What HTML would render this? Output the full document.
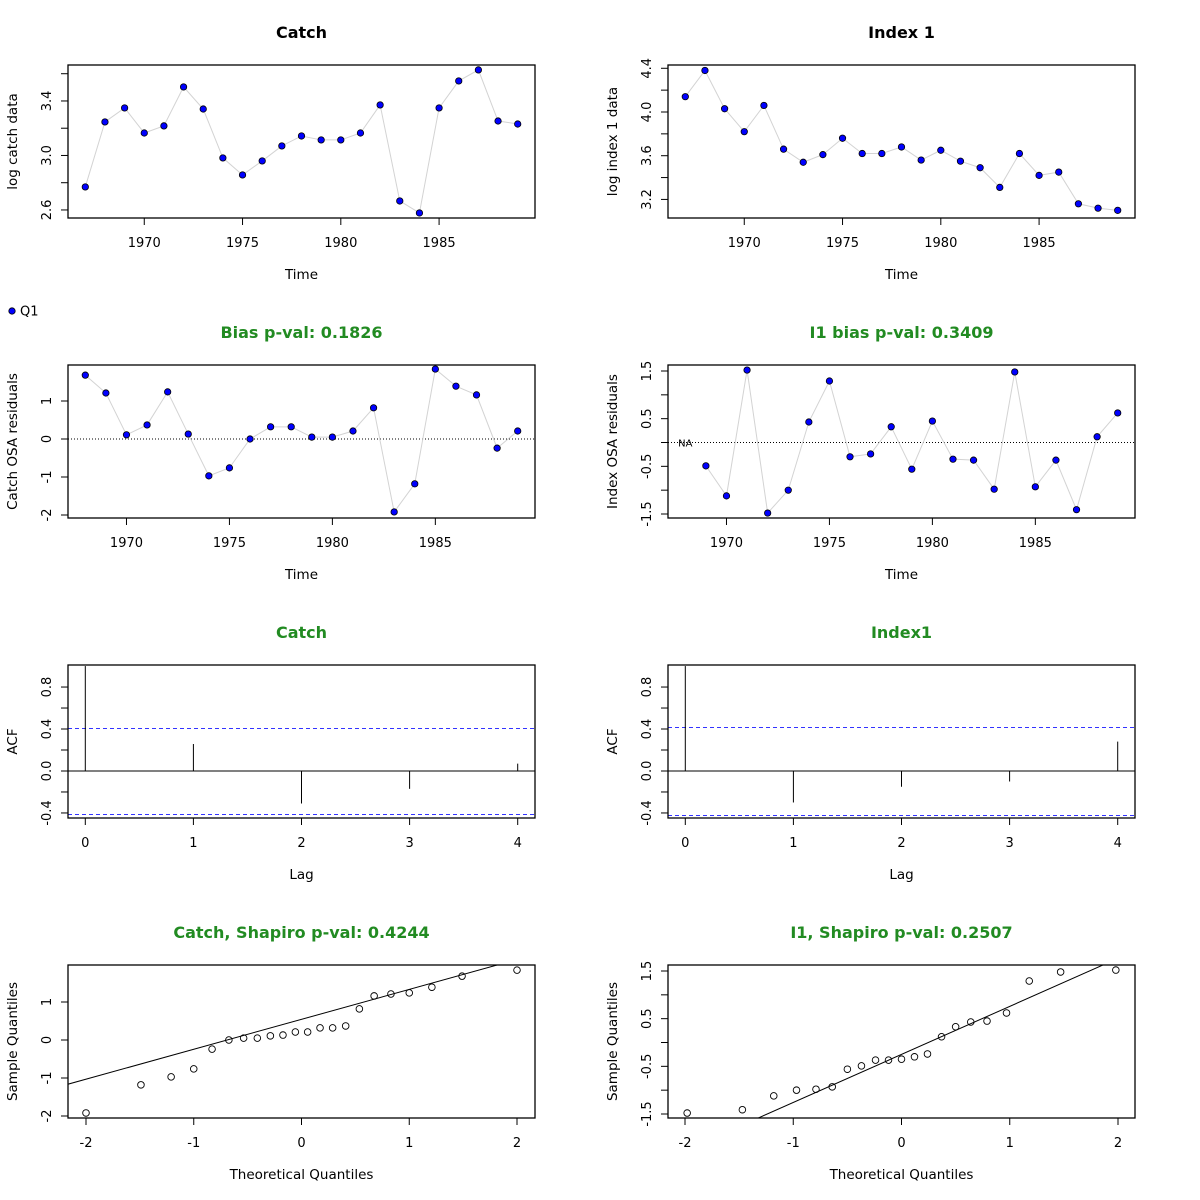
<!DOCTYPE html>
<html><head><meta charset="utf-8"><style>
html,body{margin:0;padding:0;background:#fff}
svg{display:block;font-family:"DejaVu Sans","Liberation Sans",sans-serif}
</style></head><body>
<svg id="s" width="1200" height="1200" viewBox="0 0 1200 1200">
<g>
<circle cx="12" cy="311" r="3.2" fill="#0000ff" stroke="#000" stroke-width="0.8"></circle>
<text x="20" y="315.5" font-size="13">Q1</text>
</g>
</svg>
<script>
const catchYears=[1967,1968,1969,1970,1971,1972,1973,1974,1975,1976,1977,1978,1979,1980,1981,1982,1983,1984,1985,1986,1987,1988,1989];
const catchLog=[2.769,3.246,3.349,3.165,3.217,3.503,3.341,2.982,2.857,2.960,3.070,3.143,3.114,3.114,3.165,3.371,2.666,2.578,3.349,3.547,3.628,3.253,3.231];
const indexYears=catchYears;
const indexLog=[4.14,4.38,4.03,3.82,4.06,3.66,3.54,3.61,3.76,3.62,3.62,3.68,3.56,3.65,3.55,3.49,3.31,3.62,3.42,3.45,3.16,3.12,3.10];
const residYears=[1968,1969,1970,1971,1972,1973,1974,1975,1976,1977,1978,1979,1980,1981,1982,1983,1984,1985,1986,1987,1988,1989];
const catchResid=[1.68,1.21,0.11,0.37,1.24,0.13,-0.97,-0.76,0,0.32,0.32,0.05,0.05,0.21,0.82,-1.92,-1.18,1.84,1.39,1.16,-0.24,0.21];
const indexResid=[null,-0.49,-1.12,1.52,-1.48,-1.0,0.43,1.29,-0.30,-0.24,0.33,-0.56,0.45,-0.35,-0.37,-0.98,1.48,-0.93,-0.37,-1.41,0.12,0.62];
const acfLags=[0,1,2,3,4];
const catchAcf=[1,0.257,-0.31,-0.17,0.07];
const indexAcf=[1,-0.30,-0.15,-0.10,0.28];
const catchCI=[0.41];
const indexCI=[0.415];
const catchTheo=[-2.00,-1.49,-1.21,-1.00,-0.83,-0.674,-0.537,-0.410,-0.289,-0.172,-0.057,0.057,0.172,0.289,0.410,0.537,0.674,0.83,1.00,1.21,1.49,2.00];
const indexTheo=[-1.98,-1.47,-1.18,-0.97,-0.79,-0.64,-0.50,-0.37,-0.24,-0.12,0,0.12,0.24,0.37,0.50,0.64,0.79,0.97,1.18,1.47,1.98];
const xYearTicks=[1970,1975,1980,1985];
const qqXTicks=[-2,-1,0,1,2];

const NS="http://www.w3.org/2000/svg";
const svg=document.getElementById('s');
function el(tag,attrs,parent,txt){const e=document.createElementNS(NS,tag);for(const k in attrs)e.setAttribute(k,attrs[k]);if(txt!==undefined)e.textContent=txt;(parent||svg).appendChild(e);return e;}

function panel(o){
  const g=el('g',{});
  
  
  const L=o.L,R=o.L+467,T=o.T,B=o.T+153;
  const sx=v=>L+(v-o.xd[0])/(o.xd[1]-o.xd[0])*(R-L);
  const sy=v=>B-(v-o.yd[0])/(o.yd[1]-o.yd[0])*(B-T);
  const cx=(L+R)/2;
  const t=el('text',{x:cx,y:T-27,'font-size':16,'font-weight':'bold','text-anchor':'middle',fill:o.tc},g,o.title);
  
  
  const xt=el('text',{x:cx,y:B+61,'font-size':13.5,'text-anchor':'middle'},g,o.xl);
  
  
  const yt=el('text',{x:0,y:0,'font-size':13.5,'text-anchor':'middle',transform:`translate(${L-51},${(T+B)/2}) rotate(-90)`},g,o.yl);
  
  
  o.xt.forEach(v=>{const x=sx(v);el('line',{x1:x,x2:x,y1:B,y2:B+7,stroke:'#000'},g);
    const tl=el('text',{x:x,y:B+29,'font-size':13,'text-anchor':'middle'},g,String(v));
    
    });
  o.yt.forEach((v,i)=>{const y=sy(v);el('line',{x1:L-7,x2:L,y1:y,y2:y,stroke:'#000'},g);
    if(o.yls[i]!==''){const tl=el('text',{x:0,y:0,'font-size':13,'text-anchor':'middle',transform:`translate(${L-17},${y}) rotate(-90)`},g,o.yls[i]);
    
    }});
  o.draw(g,sx,sy,L,R,T,B);
  const box=el('rect',{x:L,y:T,width:R-L,height:B-T,fill:'none',stroke:'#000','stroke-width':1.3},g);
  
  
}
function series(xs,ys){return (g,sx,sy)=>{
  let d='';xs.forEach((x,i)=>{if(ys[i]===null)return;d+=(d?'L':'M')+sx(x)+' '+sy(ys[i]);});
  const p=el('path',{d:d,fill:'none',stroke:'#d3d3d3','stroke-width':1},g);
  
  
  xs.forEach((x,i)=>{if(ys[i]===null)return;const c=el('circle',{cx:sx(x),cy:sy(ys[i]),r:3.2,fill:'#0000ff',stroke:'#000','stroke-width':0.8},g);
    
    });
};}
function zeroLine(g,sx,sy,L,R){el('line',{x1:L,x2:R,y1:sy(0),y2:sy(0),stroke:'#000','stroke-dasharray':'1,2'},g);}
function acf(vals,ci){return (g,sx,sy,L,R)=>{
  el('line',{x1:L,x2:R,y1:sy(0),y2:sy(0),stroke:'#000'},g);
  [ci[0],-ci[0]].forEach(c=>{const y=Math.round(sy(c))+0.5;const l=el('path',{d:`M${L} ${y}H${R}`,fill:'none',stroke:'#3333ff','stroke-width':1,'stroke-dasharray':'4,3'},g);
    
    });
  acfLags.forEach((k,i)=>{const l=el('line',{x1:sx(k),x2:sx(k),y1:sy(0),y2:sy(vals[i]),stroke:'#000'},g);
    
    });
};}
function quant(a,p){const s=a.slice().sort((x,y)=>x-y);const h=(s.length-1)*p;const lo=Math.floor(h);return s[lo]+(h-lo)*((s[lo+1]!==undefined?s[lo+1]:s[lo])-s[lo]);}
function qq(theo,vals){return (g,sx,sy,L,R,T,B)=>{
  const s=vals.filter(v=>v!==null).sort((a,b)=>a-b);
  const q1=quant(s,0.25),q3=quant(s,0.75),z=0.6744898;
  const slope=(q3-q1)/(2*z),inter=q1+slope*z;
  const cp=el('clipPath',{id:'c'+L+'_'+T},g);el('rect',{x:L,y:T,width:R-L,height:B-T},cp);
  const x0=-3,x1=3;
  const ln=el('line',{x1:sx(x0),x2:sx(x1),y1:sy(inter+slope*x0),y2:sy(inter+slope*x1),stroke:'#000','clip-path':`url(#c${L}_${T})`},g);
  
  
  theo.forEach((x,i)=>{const c=el('circle',{cx:sx(x),cy:sy(s[i]),r:3.3,fill:'none',stroke:'#000','stroke-width':0.9},g);
    
    });
};}

const yrD=[1966.12,1989.88], rD=[1967.16,1989.84];
panel({name:'catch-data-panel',L:68,T:65,xd:yrD,yd:[2.541,3.664],title:'Catch',tc:'#000',xl:'Time',yl:'log catch data',
  xt:xYearTicks,yt:[2.6,2.8,3.0,3.2,3.4,3.6],yls:['2.6','','3.0','','3.4',''],draw:series(catchYears,catchLog)});
panel({name:'index-data-panel',L:668,T:65,xd:yrD,yd:[3.03,4.43],title:'Index 1',tc:'#000',xl:'Time',yl:'log index 1 data',
  xt:xYearTicks,yt:[3.2,3.4,3.6,3.8,4.0,4.2,4.4],yls:['3.2','','3.6','','4.0','','4.4'],draw:series(indexYears,indexLog)});
panel({name:'catch-residual-panel',L:68,T:365,xd:rD,yd:[-2.079,1.947],title:'Bias p-val: 0.1826',tc:'#228b22',xl:'Time',yl:'Catch OSA residuals',
  xt:xYearTicks,yt:[-2,-1,0,1],yls:['-2','-1','0','1'],draw:(g,sx,sy,L,R,T,B)=>{zeroLine(g,sx,sy,L,R);series(residYears,catchResid)(g,sx,sy);}});
panel({name:'index-residual-panel',L:668,T:365,xd:rD,yd:[-1.584,1.626],title:'I1 bias p-val: 0.3409',tc:'#228b22',xl:'Time',yl:'Index OSA residuals',
  xt:xYearTicks,yt:[-1.5,-1,-0.5,0,0.5,1,1.5],yls:['-1.5','','-0.5','','0.5','','1.5'],draw:(g,sx,sy,L,R,T,B)=>{zeroLine(g,sx,sy,L,R);
    const na=el('text',{x:sx(1968),y:sy(0)+4,'font-size':10,'text-anchor':'middle'},g,'NA');
    
    
    series(residYears,indexResid)(g,sx,sy);}});
panel({name:'catch-acf-panel',L:68,T:665,xd:[-0.16,4.16],yd:[-0.448,1.01],title:'Catch',tc:'#228b22',xl:'Lag',yl:'ACF',
  xt:acfLags,yt:[-0.4,-0.2,0,0.2,0.4,0.6,0.8],yls:['-0.4','','0.0','','0.4','','0.8'],draw:acf(catchAcf,catchCI)});
panel({name:'index-acf-panel',L:668,T:665,xd:[-0.16,4.16],yd:[-0.448,1.01],title:'Index1',tc:'#228b22',xl:'Lag',yl:'ACF',
  xt:acfLags,yt:[-0.4,-0.2,0,0.2,0.4,0.6,0.8],yls:['-0.4','','0.0','','0.4','','0.8'],draw:acf(indexAcf,indexCI)});
panel({name:'catch-qq-panel',L:68,T:965,xd:[-2.167,2.167],yd:[-2.053,1.974],title:'Catch, Shapiro p-val: 0.4244',tc:'#228b22',xl:'Theoretical Quantiles',yl:'Sample Quantiles',
  xt:qqXTicks,yt:[-2,-1,0,1],yls:['-2','-1','0','1'],draw:qq(catchTheo,catchResid)});
panel({name:'index-qq-panel',L:668,T:965,xd:[-2.157,2.157],yd:[-1.584,1.626],title:'I1, Shapiro p-val: 0.2507',tc:'#228b22',xl:'Theoretical Quantiles',yl:'Sample Quantiles',
  xt:qqXTicks,yt:[-1.5,-1,-0.5,0,0.5,1,1.5],yls:['-1.5','','-0.5','','0.5','','1.5'],draw:qq(indexTheo,indexResid)});
</script>
</body></html>
